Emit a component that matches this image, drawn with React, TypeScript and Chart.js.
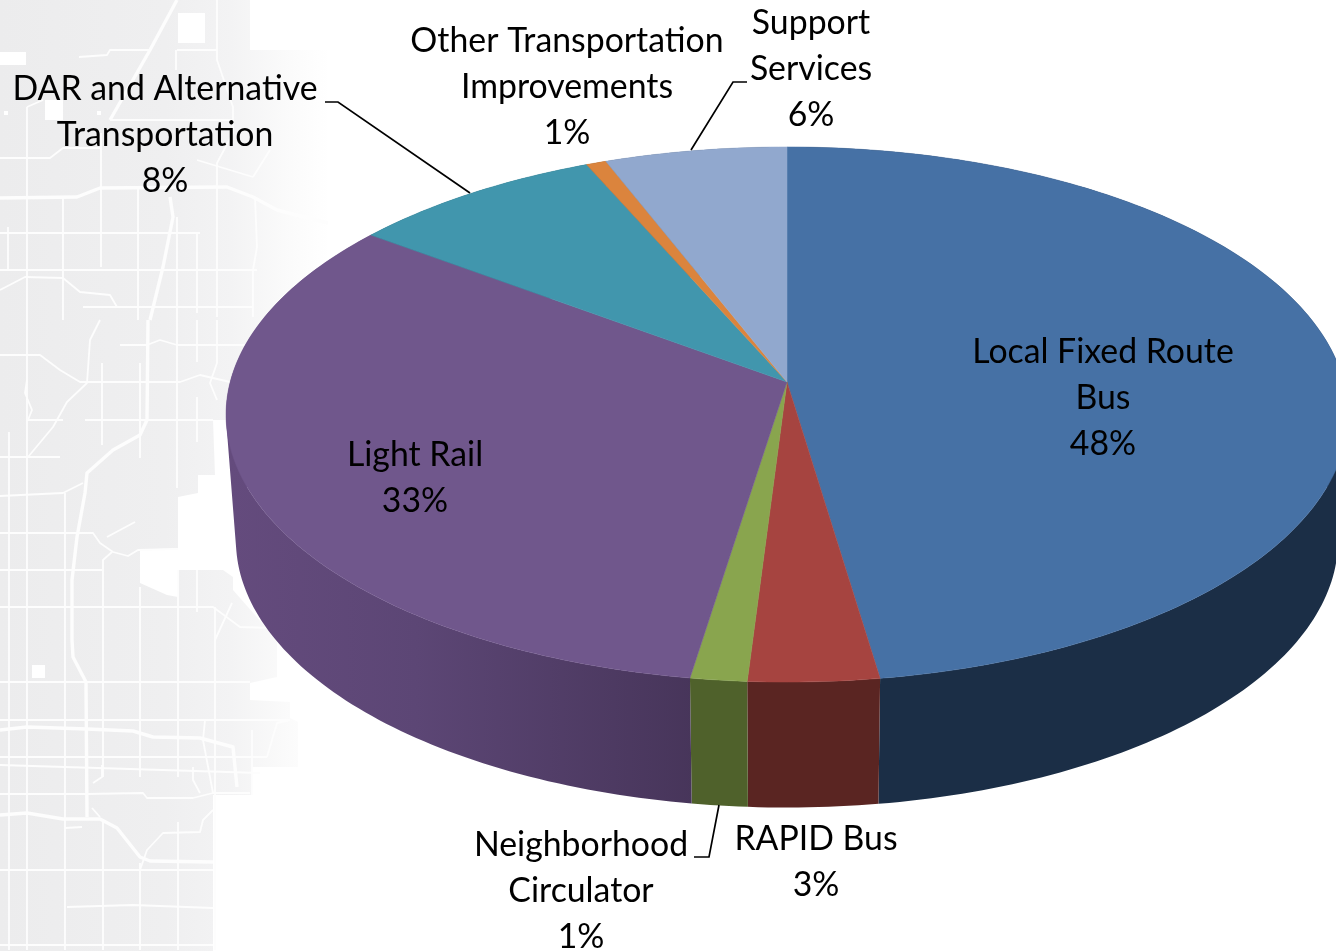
import React, { useEffect, useRef } from "react";
import { Chart, registerables } from "chart.js";

Chart.register(...registerables);

const categories = [
  "Local Fixed Route Bus",
  "RAPID Bus",
  "Neighborhood Circulator",
  "Light Rail",
  "DAR and Alternative Transportation",
  "Other Transportation Improvements",
  "Support Services",
];
const shares = [47.65, 3.35, 1.45, 32.75, 8.25, 0.65, 5.9];
const percentLabels = ["48%", "3%", "1%", "33%", "8%", "1%", "6%"];
const faceColors = ["#4671a5", "#a64440", "#89a54e", "#70578c", "#4196ad", "#db843d", "#91a8ce"];
const wallColors = ["#1b2e46", "#5a2522", "#4f612b", "#5a4574", "#1f4c58", "#6f421e", "#4a5668"];
const labelLines = [
  ["Local Fixed Route", "Bus"],
  ["RAPID Bus"],
  ["Neighborhood", "Circulator"],
  ["Light Rail"],
  ["DAR and Alternative", "Transportation"],
  ["Other Transportation", "Improvements"],
  ["Support", "Services"],
];
const labelAnchors = [
  [1103, 352], [816, 839.5], [581, 845.5], [415, 455.5], [165, 89], [567, 41.5], [811, 23],
];
const leaderLines = [
  [[325, 102], [338, 102], [470, 193]],
  [[747, 82], [733, 82], [691, 150]],
  [[694, 857], [709, 857], [719, 805]],
];

const TOP = { cx: 787, cy: 382, a: 556.8, b: 263.6, p: -0.1215 };
const BOTTOM = { cx: 787, cy: 507.6, a: 547, b: 263.5, p: -0.1215 };

const project = (g: typeof TOP, t: number) => {
  const u = Math.cos(t), v = Math.sin(t), w = 1 + g.p * v;
  return [g.cx + (g.a * u) / w, g.cy + (g.b * v) / w];
};

const thinRoads = [
  [[79,57],[107,55],[110,50],[150,50]], [[177,50],[217,50]], [[176,50],[176,70]],
  [[217,0],[217,60],[233,107],[233,133],[217,163],[217,317]], [[110,120],[233,120]],
  [[0,158],[50,158],[63,148],[100,148]], [[27,107],[27,320]], [[27,107],[43,100]],
  [[101,133],[101,267]], [[63,197],[63,320]], [[138,187],[138,320]], [[177,217],[177,320]],
  [[197,233],[197,313]], [[255,197],[257,247],[253,270],[253,317]], [[0,233],[200,233]],
  [[8,227],[8,270]], [[0,270],[257,270]], [[0,290],[25,277],[63,278],[80,292],[110,295],[117,307]],
  [[83,307],[253,307]], [[197,160],[253,177]], [[270,150],[253,177]],
  [[0,355],[40,355],[60,370],[80,382],[180,382],[200,375],[230,382]],
  [[120,345],[147,345],[160,340],[177,345],[247,345]], [[27,320],[27,950]],
  [[100,320],[90,340],[87,383],[67,402],[53,427],[28,457]],
  [[27,380],[25,393],[32,410],[28,420],[43,420],[63,420]], [[85,420],[213,420]],
  [[102,363],[102,445]], [[140,363],[140,458]], [[177,320],[177,488]], [[197,320],[197,362]],
  [[197,397],[197,442]], [[217,320],[217,363],[210,383],[217,400]], [[0,457],[60,457]],
  [[9,432],[9,950]], [[0,496],[63,493],[83,483]], [[65,493],[65,950]],
  [[0,533],[93,533],[100,543],[113,552],[128,556],[138,550],[178,549]], [[107,537],[135,522]],
  [[0,570],[102,570]], [[103,777],[103,560],[112,552]], [[0,607],[213,607],[240,627],[273,628]],
  [[140,587],[140,777]], [[178,570],[178,777]], [[197,570],[197,612]], [[215,607],[215,795]],
  [[215,640],[232,603]], [[0,682],[250,682]], [[0,720],[290,720]], [[0,757],[267,757]],
  [[0,765],[260,773]], [[0,794],[87,794],[143,793],[147,798],[193,798],[213,793],[250,793]],
  [[205,720],[203,740],[213,793]], [[193,767],[193,780],[200,793]], [[102,765],[102,777],[93,783]],
  [[213,810],[203,820],[200,832],[163,833],[147,850],[140,870]], [[0,870],[213,870]],
  [[67,907],[133,905],[213,908]], [[0,945],[213,945]], [[92,808],[100,817]], [[65,828],[82,827]],
  [[267,757],[277,723],[290,720]], [[103,820],[103,950]], [[140,863],[140,950]],
  [[178,822],[178,950]], [[215,795],[215,950]], [[252,730],[252,795]],
];
const thickRoads = [
  [[177,0],[150,50],[110,120]],
  [[0,198],[77,197],[100,188],[227,187],[253,197],[277,210],[328,223]],
  [[170,197],[173,217],[163,267],[150,320]],
  [[148,320],[147,420],[140,435],[113,450],[87,473],[85,493],[77,537],[72,580],[72,640],[73,657],[86,682],[87,817]],
  [[0,730],[27,727],[87,729],[133,731],[153,737],[200,738],[233,747],[237,787]],
  [[0,815],[27,813],[63,819],[100,819],[117,828],[140,857],[150,861],[213,862]],
];
const mapOutline = [
  [0,0],[250,0],[250,50],[328,50],[328,260],[300,420],[213,420],[215,475],[198,475],[198,493],[178,497],
  [178,548],[140,550],[140,583],[167,595],[178,597],[178,570],[223,570],[233,577],[233,590],[277,640],
  [277,677],[250,683],[250,700],[290,702],[290,718],[298,722],[298,767],[252,767],[252,795],[213,795],
  [213,951],[0,951],
];
const mapHoles = [
  [178,13,27,30], [0,52,26,13], [45,100,18,20], [4,111,4,4], [97,111,4,4], [32,665,13,13],
];

const addPoly = (ctx: CanvasRenderingContext2D, pts: number[][]) => {
  pts.forEach(([x, y], i) => (i ? ctx.lineTo(x, y) : ctx.moveTo(x, y)));
};
const tracePath = (ctx: CanvasRenderingContext2D, pts: number[][]) => {
  ctx.beginPath();
  addPoly(ctx, pts);
};
const signedArea = (pts: number[][]) =>
  pts.reduce((sum, [x, y], i) => {
    const [nx, ny] = pts[(i + 1) % pts.length];
    return sum + x * ny - nx * y;
  }, 0);

const pie3d = {
  id: "pie3d",
  beforeDraw(chart: any) {
    const ctx: CanvasRenderingContext2D = chart.ctx;
    ctx.save();
    ctx.fillStyle = "#fff";
    ctx.fillRect(0, 0, chart.width, chart.height);
    const g = ctx.createLinearGradient(0, 0, 330, 0);
    g.addColorStop(0, "#ececed");
    g.addColorStop(0.5, "#efeff0");
    g.addColorStop(0.7, "#f3f3f4");
    g.addColorStop(0.88, "#fbfbfb");
    g.addColorStop(1, "#ffffff");
    tracePath(ctx, mapOutline);
    ctx.closePath();
    ctx.fillStyle = g;
    ctx.fill();
    ctx.fillStyle = "#fff";
    mapHoles.forEach(([x, y, w, h]) => ctx.fillRect(x, y, w, h));
    ctx.strokeStyle = "#fdfdfd";
    ctx.lineJoin = "round";
    ctx.lineWidth = 1.8;
    thinRoads.forEach((r) => { tracePath(ctx, r); ctx.stroke(); });
    ctx.lineWidth = 3.4;
    thickRoads.forEach((r) => { tracePath(ctx, r); ctx.stroke(); });
    ctx.restore();
  },
  beforeDatasetsDraw(chart: any) {
    const ctx: CanvasRenderingContext2D = chart.ctx;
    const arcs = chart.getDatasetMeta(0).data;
    ctx.save();
    ctx.lineJoin = "round";
    arcs.forEach((arc: any, i: number) => {
      let fill: any = wallColors[i];
      if (i === 3) {
        const g = ctx.createLinearGradient(230, 0, 695, 0);
        g.addColorStop(0, "#644b7d");
        g.addColorStop(0.4, "#5c4675");
        g.addColorStop(1, "#47355a");
        fill = g;
      }
      const steps = Math.max(2, Math.ceil(((arc.endAngle - arc.startAngle) * 180) / Math.PI));
      ctx.fillStyle = fill;
      ctx.beginPath();
      for (let s = 0; s < steps; s++) {
        const t0 = arc.startAngle + ((arc.endAngle - arc.startAngle) * s) / steps;
        const t1 = arc.startAngle + ((arc.endAngle - arc.startAngle) * (s + 1)) / steps;
        const quad = [project(TOP, t0), project(TOP, t1), project(BOTTOM, t1), project(BOTTOM, t0)];
        addPoly(ctx, signedArea(quad) < 0 ? quad.reverse() : quad);
        ctx.closePath();
      }
      ctx.fill();
    });
    arcs.forEach((arc: any) => {
      const steps = Math.max(4, Math.ceil(((arc.endAngle - arc.startAngle) * 180) / Math.PI));
      const pts = [[TOP.cx, TOP.cy]];
      for (let s = 0; s <= steps; s++) {
        pts.push(project(TOP, arc.startAngle + ((arc.endAngle - arc.startAngle) * s) / steps));
      }
      tracePath(ctx, pts);
      ctx.closePath();
      ctx.fillStyle = arc.options.backgroundColor;
      ctx.strokeStyle = arc.options.backgroundColor;
      ctx.lineWidth = 0.5;
      ctx.fill();
      ctx.stroke();
    });
    ctx.restore();
    return false;
  },
  afterDraw(chart: any) {
    const ctx: CanvasRenderingContext2D = chart.ctx;
    ctx.save();
    ctx.strokeStyle = "#000";
    ctx.lineWidth = 1.7;
    leaderLines.forEach((l) => { tracePath(ctx, l); ctx.stroke(); });
    ctx.fillStyle = "#000";
    ctx.font = "33.8px Lato, 'Open Sans', sans-serif";
    ctx.textAlign = "center";
    ctx.textBaseline = "middle";
    labelLines.forEach((lines, i) => {
      const [x, y] = labelAnchors[i];
      [...lines, percentLabels[i]].forEach((t, k) => ctx.fillText(t, x, y + k * 46));
    });
    ctx.restore();
  },
};

export default function App() {
  const ref = useRef<HTMLCanvasElement>(null);
  useEffect(() => {
    const chart = new Chart(ref.current!, {
      type: "pie",
      data: {
        labels: categories,
        datasets: [{ data: shares, backgroundColor: faceColors, borderWidth: 0 }],
      },
      options: {
        responsive: false,
        animation: false,
        plugins: { legend: { display: false }, tooltip: { enabled: false } },
      },
      plugins: [pie3d],
    } as any);
    return () => chart.destroy();
  }, []);
  return (
    <div style={{ position: "fixed", left: 0, top: 0, width: 1336, height: 951, overflow: "hidden", background: "#fff" }}>
      <canvas ref={ref} width={1336} height={951} style={{ display: "block" }} />
    </div>
  );
}
